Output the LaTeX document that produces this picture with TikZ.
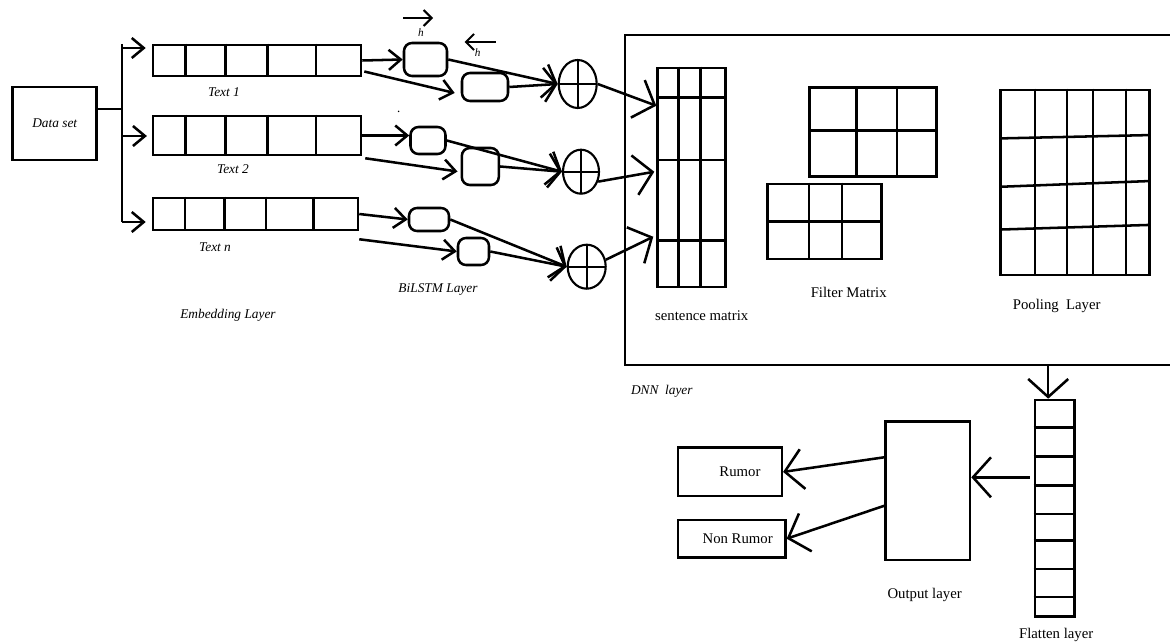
\documentclass[tikz,border=0pt]{standalone}
\usepackage{fontspec}
\setmainfont{Liberation Serif}
\usetikzlibrary{arrows.meta,positioning,calc,shapes.geometric}
\newdimen\px \px=0.025cm

\begin{document}
\begin{tikzpicture}[x=0.025cm,y=-0.025cm,line width=1.8pt,
 >={Straight Barb[length=3mm,width=5mm]},
 wide/.style={-{Straight Barb[length=4.5mm,width=10mm]}},
 spread/.style={-{Straight Barb[length=3mm,width=8.5mm]}},
 hvec/.style={line width=1.4pt,-{Straight Barb[length=2mm,width=4mm]}},
 cell/.style={draw,inner sep=0pt},
 lstm/.style={draw,rounded corners=2mm,inner sep=0pt},
 oplus/.style={draw,ellipse,inner sep=0pt,line width=1.5pt,
  path picture={\draw[line width=1.5pt] (path picture bounding box.north) -- (path picture bounding box.south)
   (path picture bounding box.west) -- (path picture bounding box.east);}},
 itl/.style={font=\fontsize{9.5}{11}\selectfont\itshape},
 txt/.style={font=\fontsize{10.5}{12}\selectfont}]
\useasboundingbox (0,0) rectangle (1170,643);

% embedding layer
\node[cell,itl,minimum width=84*\px,minimum height=73*\px] (ds) at (54.7,123.3) {Data set};
\node[cell,minimum width=208*\px,minimum height=31*\px] (t1) at (257,60.5) {};
\node[cell,minimum width=208*\px,minimum height=39*\px] (t2) at (257,135.5) {};
\node[cell,minimum width=205*\px,minimum height=32*\px] (tn) at (255.5,214) {};
\foreach \n in {t1,t2,tn}
 \foreach \f in {.16,.35,.55,.78}
  \draw ($(\n.north west)!\f!(\n.north east)$) -- ($(\n.south west)!\f!(\n.south east)$);
\node[itl] (l1) at (224,92) {Text 1};
\node[itl] (l2) at (233,169) {Text 2};
\node[itl] (l3) at (215,247) {Text n};
\node[itl] (emb) at (228,315) {Embedding Layer};

\coordinate (b0) at (122,109);
\coordinate (b1) at (122,48);
\coordinate (b2) at (122,136);
\coordinate (b3) at (122,222);
\draw (ds.east |- b0) -- (b0);
\draw ($(b1)+(0,-4)$) -- (b3);
\draw[->,shorten >=1.5mm] (b1) -- (b1 -| t1.west);
\draw[->,shorten >=1.2mm] (b2) -- (b2 -| t2.west);
\draw[->,shorten >=1.5mm] (b3) -- (b3 -| tn.west);

% bilstm layer
\node[lstm,minimum width=43*\px,minimum height=33*\px] (f1) at (425.5,59.5) {};
\node[lstm,minimum width=46*\px,minimum height=28*\px] (g1) at (485,87) {};
\node[lstm,minimum width=35*\px,minimum height=27*\px] (f2) at (428,140.5) {};
\node[lstm,minimum width=37*\px,minimum height=37*\px] (g2) at (480.3,166.5) {};
\node[lstm,minimum width=40*\px,minimum height=23*\px] (f3) at (429,219.5) {};
\node[lstm,minimum width=31*\px,minimum height=27*\px] (g3) at (473.5,251.5) {};
\node[oplus,minimum width=38*\px,minimum height=48*\px] (c1) at (577.7,84) {};
\node[oplus,minimum width=36*\px,minimum height=44*\px] (c2) at (581,171.7) {};
\node[oplus,minimum width=38*\px,minimum height=44*\px] (c3) at (586.7,266.7) {};
\node[itl,font=\fontsize{8}{9}\selectfont\itshape] (h1) at (421,33) {h};
\node[itl,font=\fontsize{8}{9}\selectfont\itshape] (h2) at (477.7,53) {h};
\draw[hvec] ($(h1)+(-18,-15)$) -- ($(h1)+(12,-15)$);
\draw[hvec] ($(h2)+(18,-11)$) -- ($(h2)+(-13,-11)$);
\node[itl] (dot) at (399,112) {.};
\node[itl] (bil) at (438,290) {BiLSTM Layer};

\draw[->] (t1.east) -- (f1.west);
\draw[->] ($(t1.east)+(2,11)$) -- ($(g1.west)+(-6,6)$);
\draw[->] (t2.east) -- (t2.east -| f2.west);
\draw[->] ($(t2.south east)+(3,2)$) -- ($(g2.west)+(-3,5)$);
\draw[->] (tn.east) -- (f3.west);
\draw[->] ($(tn.south east)+(0,8)$) -- (g3.west);
\draw[spread] (f1.east) -- (c1.west);
\draw[spread] (g1.east) -- (c1.west);
\draw[spread] (f2.east) -- (c2.west);
\draw[spread] (g2.east) -- (c2.west);
\draw[spread] (f3.east) -- (c3.west);
\draw[spread] (g3.east) -- (c3.west);

% dnn layer
\node[cell,minimum width=555*\px,minimum height=330*\px] (dnn) at (902.5,200) {};
\node[cell,minimum width=67.7*\px,minimum height=219*\px] (sm) at (691.4,177.5) {};
\foreach \f in {.316,.628}
 \draw ($(sm.north west)!\f!(sm.north east)$) -- ($(sm.south west)!\f!(sm.south east)$);
\foreach \f in {.138,.42,.785}
 \draw ($(sm.north west)!\f!(sm.south west)$) -- ($(sm.north east)!\f!(sm.south east)$);
\node[cell,minimum width=127.3*\px,minimum height=89*\px] (fa) at (873,132.2) {};
\foreach \f in {.372,.683}
 \draw ($(fa.north west)!\f!(fa.north east)$) -- ($(fa.south west)!\f!(fa.south east)$);
\draw ($(fa.north west)!.483!(fa.south west)$) -- ($(fa.north east)!.483!(fa.south east)$);
\node[cell,minimum width=114*\px,minimum height=75*\px] (fb) at (824.3,221.5) {};
\foreach \f in {.369,.653}
 \draw ($(fb.north west)!\f!(fb.north east)$) -- ($(fb.south west)!\f!(fb.south east)$);
\draw ($(fb.north west)!.5!(fb.south west)$) -- ($(fb.north east)!.5!(fb.south east)$);
\node[cell,minimum width=149*\px,minimum height=185*\px] (pl) at (1075.1,182.5) {};
\foreach \f in {.235,.447,.617,.835}
 \draw ($(pl.north west)!\f!(pl.north east)$) -- ($(pl.south west)!\f!(pl.south east)$);
\foreach \l/\r in {.265/.247,.523/.492,.751/.726}
 \draw ($(pl.north west)!\l!(pl.south west)$) -- ($(pl.north east)!\r!(pl.south east)$);
\node[txt] (smt) at (701.7,316) {sentence matrix};
\node[txt] (fmt) at (848.7,292.7) {Filter Matrix};
\node[txt] (plt) at (1056.7,306) {Pooling~ Layer};
\node[itl] (dnt) at (661.8,391.7) {DNN~ layer};

\draw[wide] (c1.east) -- ($(sm.north west)+(0,39)$);
\draw[wide] (c2.-30) -- ($(sm.north west)+(-2,105)$);
\draw[wide] (c3.20) -- ($(sm.north west)+(-3,170)$);

% output
\node[cell,minimum width=39.4*\px,minimum height=216.7*\px] (fl) at (1054.7,508.3) {};
\foreach \f in {.131,.264,.397,.526,.646,.777,.904}
 \draw ($(fl.north west)!\f!(fl.south west)$) -- ($(fl.north east)!\f!(fl.south east)$);
\node[cell,minimum width=84.6*\px,minimum height=138.3*\px] (ol) at (927.7,490.8) {};
\node[cell,txt,minimum width=103.8*\px,minimum height=48.3*\px] (ru) at (729.9,471.9) {\hspace*{5mm}Rumor};
\node[cell,txt,minimum width=107.4*\px,minimum height=37.3*\px] (nr) at (731.7,538.7) {\hspace*{3mm}Non Rumor};
\node[txt] (olt) at (924.6,595) {Output layer};
\node[txt] (flt) at (1056.2,635) {Flatten layer};

\coordinate (d1) at ($(fl.north)+(-6.5,0)$);
\draw[wide] (d1 |- dnn.south) -- (d1);
\draw[wide] ($(fl.west)+(-4,-31)$) coordinate (q) -- (q -| ol.east);
\draw[wide] ($(ol.west)+(0,-33.5)$) -- (ru.east);
\draw[wide] ($(ol.west)+(0,15)$) -- (nr.east);
\end{tikzpicture}
\end{document}
